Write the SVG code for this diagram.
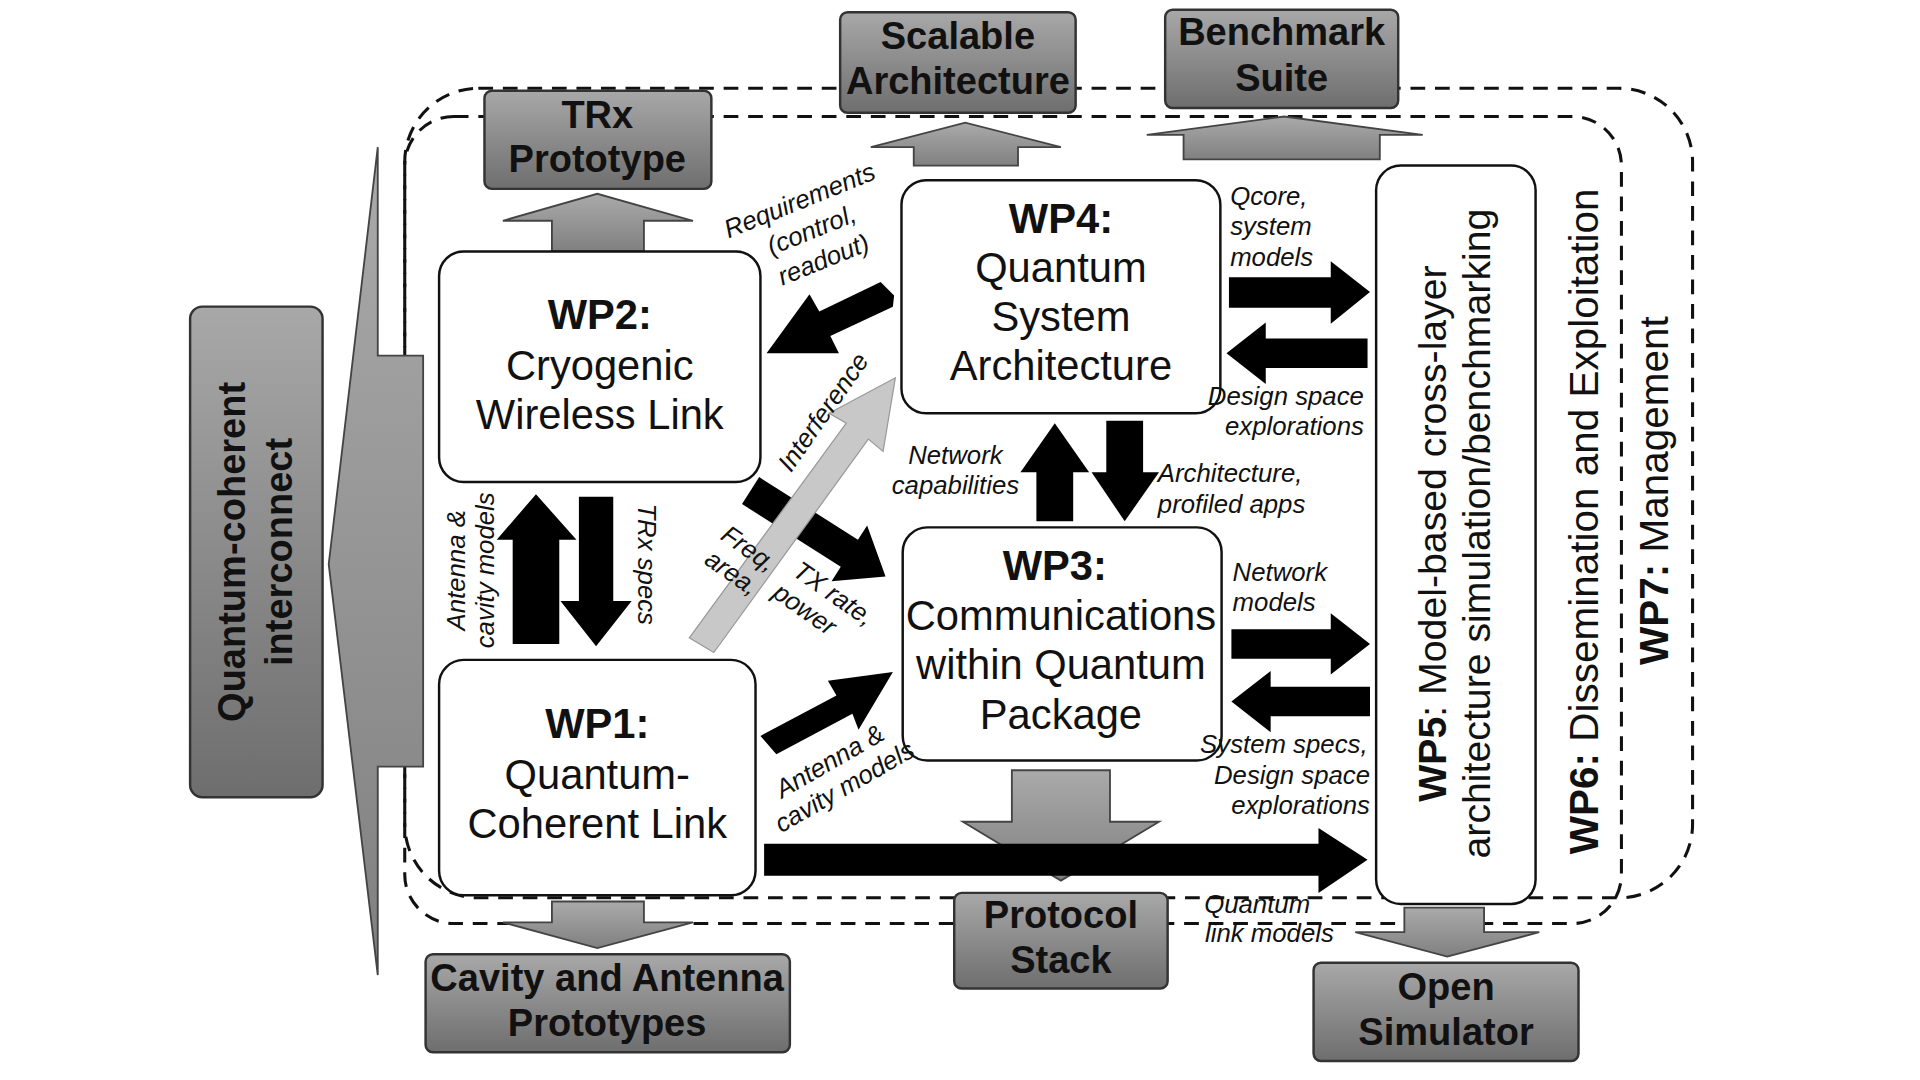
<svg xmlns="http://www.w3.org/2000/svg" width="1920" height="1080" viewBox="0 0 1920 1080">
<defs>
<linearGradient id="g" x1="0" y1="0" x2="0" y2="1"><stop offset="0" stop-color="#a8a8a8"/><stop offset="1" stop-color="#6e6e6e"/></linearGradient>
<linearGradient id="ga" x1="0" y1="0" x2="0" y2="1"><stop offset="0" stop-color="#aaa"/><stop offset="1" stop-color="#808080"/></linearGradient>
<style>
.gb{fill:url(#g);stroke:#333;stroke-width:2}
.ga{fill:url(#ga);stroke:#444;stroke-width:1.5}
.wn{fill:#fff;stroke:#111;stroke-width:2}
.dash{fill:none;stroke:#111;stroke-width:2.5;stroke-dasharray:12 8}
.t{font-family:"Liberation Sans Narrow","Liberation Sans",Arial,sans-serif;fill:#111;text-anchor:middle}
.bt{font-size:31px;font-weight:bold}
.nt{font-size:34px}
.lb{font-size:21px;font-style:italic}
.ba{fill:#000}
</style>
</defs>
<rect width="1920" height="1080" fill="#fff"/>
<g transform="scale(1.2265)">
<rect class="dash" x="330" y="72" width="1050" height="660" rx="60"/>
<rect class="dash" x="330" y="95" width="992" height="658" rx="40"/>
<g id="interconnect-arrow"><polygon class="ga" points="345,290 308,290 308,120 268,460 308,795 308,625 345,625"/></g>
<g id="interconnect"><rect class="gb" x="155" y="250" width="108" height="400" rx="10"/>
<text class="t bt" transform="translate(208,450) rotate(-90)"><tspan x="0" y="-8">Quantum-coherent</tspan><tspan x="0" y="30">interconnect</tspan></text></g>
<g id="out-arrows">
<polygon class="ga" points="450,205 450,180 410,180 487,158 565,180 525,180 525,205"/>
<polygon class="ga" points="745,135 745,120 710,120 787,100 865,120 830,120 830,135"/>
<polygon class="ga" points="965,130 965,110 935,110 1047,95 1160,110 1125,110 1125,130"/>
<polygon class="ga" points="450,735 525,735 525,752 565,752 487,773 410,752 450,752"/>
<polygon class="ga" points="825,628 905,628 905,670 945,670 865,718 785,670 825,670"/>
<polygon class="ga" points="1145,740 1210,740 1210,760 1255,760 1180,780 1105,760 1145,760"/>
</g>
<g id="trx"><rect class="gb" x="395" y="74" width="185" height="80" rx="6"/><text class="t bt"><tspan x="487" y="104">TRx</tspan><tspan x="487" y="140">Prototype</tspan></text></g>
<g id="scalable"><rect class="gb" x="685" y="10" width="192" height="82" rx="6"/><text class="t bt"><tspan x="781" y="40">Scalable</tspan><tspan x="781" y="77">Architecture</tspan></text></g>
<g id="benchmark"><rect class="gb" x="950" y="8" width="190" height="80" rx="6"/><text class="t bt"><tspan x="1045" y="37">Benchmark</tspan><tspan x="1045" y="74">Suite</tspan></text></g>
<g id="cavity"><rect class="gb" x="347" y="778" width="297" height="80" rx="6"/><text class="t bt"><tspan x="495" y="808">Cavity and Antenna</tspan><tspan x="495" y="845">Prototypes</tspan></text></g>
<g id="protocol"><rect class="gb" x="778" y="728" width="174" height="78" rx="6"/><text class="t bt"><tspan x="865" y="757">Protocol</tspan><tspan x="865" y="793">Stack</tspan></text></g>
<g id="opensim"><rect class="gb" x="1071" y="785" width="216" height="80" rx="6"/><text class="t bt"><tspan x="1179" y="815">Open</tspan><tspan x="1179" y="852">Simulator</tspan></text></g>

<g id="connectors">
<polygon class="ba" points="418,525 418,440 405,440 437,403 470,440 456,440 456,525"/>
<polygon class="ba" points="472,405 500,405 500,490 515,490 486,527 457,490 472,490"/>
<polygon class="ba" points="845,425 845,385 832,385 860,345 888,385 875,385 875,425"/>
<polygon class="ba" points="902,343 932,343 932,385 945,385 917,425 890,385 902,385"/>
<polygon class="ba" points="1002,226 1085,226 1085,213 1117,238 1085,264 1085,251 1002,251"/>
<polygon class="ba" points="1115,276 1032,276 1032,263 1000,288 1032,313 1032,300 1115,300"/>
<polygon class="ba" points="1004,513 1085,513 1085,500 1117,525 1085,550 1085,537 1004,537"/>
<polygon class="ba" points="1117,560 1036,560 1036,547 1004,572 1036,597 1036,584 1117,584"/>
<polygon class="ba" points="623,688 1075,688 1075,675 1115,701 1075,728 1075,714 623,714"/>
<polygon class="ba" points="729,241 718,230 668,254 660,240 625,288 684,288 677,274 728,250"/>
<polygon class="ba" points="619,389 699.5,440 707,428.5 722,470 678,474 685.5,462 605,411"/>
<polygon class="ba" points="620,600 682,567 675,555 728,548 700,595 695,582 633,615"/>
<polygon fill="#c8c8c8" stroke="#999" stroke-width="1" points="562,520 690,345 676,337 730,308 720,368 708,358 582,532"/>
</g>

<g id="wp2"><rect class="wn" x="358" y="205" width="262" height="188" rx="20"/><text class="t nt"><tspan x="489" y="268" font-weight="bold">WP2:</tspan><tspan x="489" y="310">Cryogenic</tspan><tspan x="489" y="350">Wireless Link</tspan></text></g>
<g id="wp1"><rect class="wn" x="358" y="538" width="258" height="192" rx="20"/><text class="t nt"><tspan x="487" y="602" font-weight="bold">WP1:</tspan><tspan x="487" y="643">Quantum-</tspan><tspan x="487" y="683">Coherent Link</tspan></text></g>
<g id="wp4"><rect class="wn" x="735" y="147" width="260" height="190" rx="20"/><text class="t nt"><tspan x="865" y="190" font-weight="bold">WP4:</tspan><tspan x="865" y="230">Quantum</tspan><tspan x="865" y="270">System</tspan><tspan x="865" y="310">Architecture</tspan></text></g>
<g id="wp3"><rect class="wn" x="736" y="430" width="260" height="190" rx="20"/><text class="t nt"><tspan x="860" y="473" font-weight="bold">WP3:</tspan><tspan x="865" y="514">Communications</tspan><tspan x="865" y="554">within Quantum</tspan><tspan x="865" y="594">Package</tspan></text></g>
<g id="wp5"><rect class="wn" x="1122" y="135" width="130" height="602" rx="20"/><text class="t" font-size="32" transform="translate(1187,435) rotate(-90)"><tspan x="0" y="-8"><tspan font-weight="bold">WP5</tspan>: Model-based cross-layer</tspan><tspan x="0" y="28">architecture simulation/benchmarking</tspan></text></g>
<text id="wp6" class="t" font-size="33" transform="translate(1303,425) rotate(-90)"><tspan font-weight="bold">WP6:</tspan> Dissemination and Exploitation</text>
<text id="wp7" class="t" font-size="33" transform="translate(1360,400) rotate(-90)"><tspan font-weight="bold">WP7:</tspan> Management</text>

<g id="labels" class="t lb">
<text transform="translate(665,196) rotate(-22)"><tspan x="0" y="-28">Requirements</tspan><tspan x="0" y="-2">(control,</tspan><tspan x="0" y="24">readout)</tspan></text>
<text transform="translate(677,340) rotate(-55)">Interference</text>
<text transform="translate(603,458) rotate(35)"><tspan x="0" y="-6">Freq,</tspan><tspan x="0" y="18">area,</tspan></text>
<text transform="translate(670,498) rotate(35)"><tspan x="0" y="-10">TX rate,</tspan><tspan x="-12" y="14">power</tspan></text>
<text transform="translate(385,465) rotate(-90)"><tspan x="0" y="-6">Antenna &amp;</tspan><tspan x="0" y="18">cavity models</tspan></text>
<text transform="translate(520,460) rotate(90)">TRx specs</text>
<text transform="translate(683,632) rotate(-30)"><tspan x="0" y="-6">Antenna &amp;</tspan><tspan x="0" y="18">cavity models</tspan></text>
<text text-anchor="start"><tspan x="1003" y="167">Qcore,</tspan><tspan x="1003" y="192">system</tspan><tspan x="1003" y="217">models</tspan></text>
<text text-anchor="end"><tspan x="1112" y="330">Design space</tspan><tspan x="1112" y="355">explorations</tspan></text>
<text><tspan x="779" y="378">Network</tspan><tspan x="779" y="403">capabilities</tspan></text>
<text text-anchor="start"><tspan x="944" y="393">Architecture,</tspan><tspan x="944" y="418">profiled apps</tspan></text>
<text text-anchor="start"><tspan x="1005" y="474">Network</tspan><tspan x="1005" y="498">models</tspan></text>
<text text-anchor="end"><tspan x="1115" y="614">System specs,</tspan><tspan x="1117" y="639">Design space</tspan><tspan x="1117" y="664">explorations</tspan></text>
<text><tspan x="1025" y="744">Quantum</tspan><tspan x="1035" y="768">link models</tspan></text>
</g>
</g>
</svg>
